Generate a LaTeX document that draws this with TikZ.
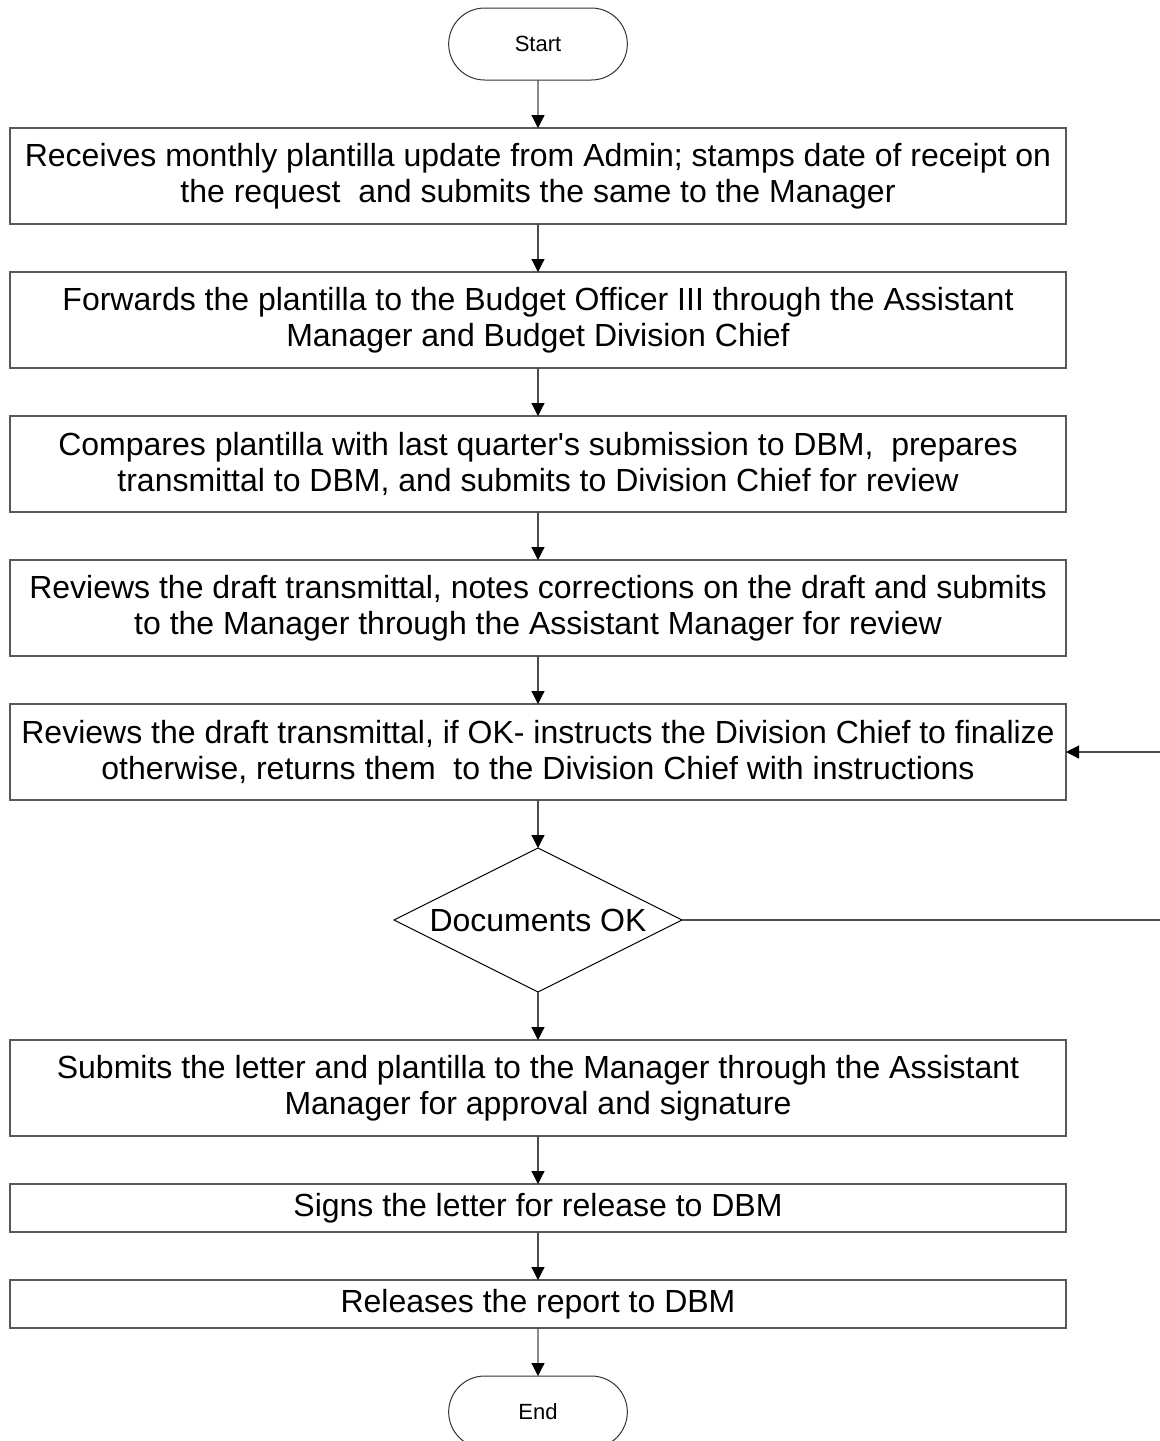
\documentclass[tikz,border=0pt]{standalone}
\usepackage{fontspec}
\setmainfont{Liberation Sans}
\usepackage{tikz}
\usetikzlibrary{arrows.meta,positioning,shapes.geometric,shapes.misc}

\begin{document}
\begin{tikzpicture}[
  node distance=24pt,
  box/.style={draw=black!65, line width=0.6pt, align=center, outer sep=0pt,
    font=\fontsize{16pt}{18pt}\selectfont, minimum width=528pt, minimum height=48pt, inner sep=2pt},
  thinbox/.style={box, minimum height=24pt},
  term/.style={rounded rectangle, draw=black!80, line width=0.5pt, outer sep=0pt,
    minimum width=96pt, minimum height=36pt, font=\fontsize{11pt}{13pt}\selectfont},
  decide/.style={diamond, draw=black, line width=0.5pt, outer sep=0pt, inner sep=0pt,
    aspect=2, minimum width=144pt, minimum height=72pt, font=\fontsize{16pt}{18pt}\selectfont},
  arr/.style={-{Triangle[length=6.5pt, width=6.5pt, color=black]}, line width=0.6pt, draw=black!70},
]
\useasboundingbox (0,0) rectangle (580pt,-720.5pt);
\node[term] (start) at (269pt,-22pt) {Start};
\node[box, below=of start] (p1) {Receives monthly plantilla update from Admin; stamps date of receipt on\\the request~ and submits the same to the Manager};
\node[box, below=of p1] (p2) {Forwards the plantilla to the Budget Officer III through the Assistant\\Manager and Budget Division Chief};
\node[box, below=of p2] (p3) {Compares plantilla with last quarter\textquotesingle s submission to DBM,~ prepares\\transmittal to DBM, and submits to Division Chief for review};
\node[box, below=of p3] (p4) {Reviews the draft transmittal, notes corrections on the draft and submits\\to the Manager through the Assistant Manager for review};
\node[box, below=of p4] (p5) {Reviews the draft transmittal, if OK- instructs the Division Chief to finalize\\otherwise, returns them~ to the Division Chief with instructions};
\node[decide, below=of p5] (dec) {Documents OK};
\node[box, below=of dec] (p6) {Submits the letter and plantilla to the Manager through the Assistant\\Manager for approval and signature};
\node[thinbox, below=of p6] (p7) {Signs the letter for release to DBM};
\node[thinbox, below=of p7] (p8) {Releases the report to DBM};
\node[term, below=of p8] (end) {End};
% main flow
\draw[arr] (start) -- (p1);
\draw[arr] (p1) -- (p2);
\draw[arr] (p2) -- (p3);
\draw[arr] (p3) -- (p4);
\draw[arr] (p4) -- (p5);
\draw[arr] (p5) -- (dec);
\draw[arr] (dec) -- (p6);
\draw[arr] (p6) -- (p7);
\draw[arr] (p7) -- (p8);
\draw[arr] (p8) -- (end);
% return loop, runs past the right edge
\draw[arr] (dec.east) -| ([xshift=48pt]p5.east) -- (p5.east);
\end{tikzpicture}
\end{document}
